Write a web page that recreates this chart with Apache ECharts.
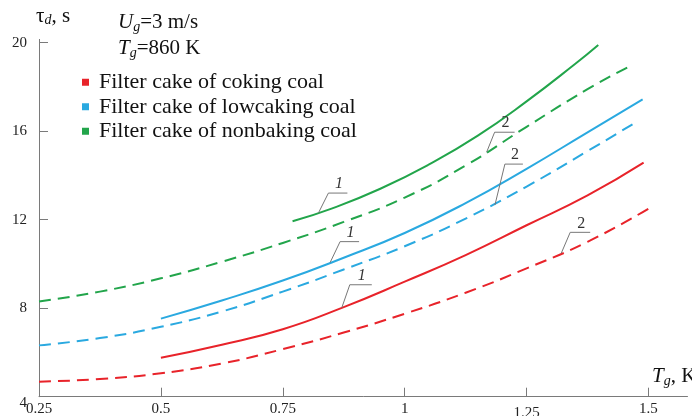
<!DOCTYPE html>
<html>
<head>
<meta charset="utf-8">
<script src="https://cdn.jsdelivr.net/npm/echarts@6/dist/echarts.min.js"></script>
<style>
  html, body { margin: 0; padding: 0; background: #fff; }
  #chart { width: 692px; height: 416px; }
</style>
</head>
<body>
<div id="chart"></div>
<script>
// Droplet time tau_d versus T_g for three filter cakes (curves 1 and 2)
const xTicks = [0.25, 0.5, 0.75, 1, 1.25, 1.5];
const yTicks = [4, 8, 12, 16, 20];

const seriesNames = [
  'Filter cake of coking coal',
  'Filter cake of lowcaking coal',
  'Filter cake of nonbaking coal'
];

// coking coal
const cokingCurve1 = [[0.5, 5.76], [0.625, 6.35], [0.75, 7.05], [0.875, 8.05], [1.0, 9.2],
  [1.125, 10.4], [1.25, 11.75], [1.375, 13.1], [1.49, 14.58]];
const cokingCurve2 = [[0.25, 4.68], [0.375, 4.8], [0.5, 5.06], [0.625, 5.5], [0.75, 6.15],
  [0.875, 6.9], [1.0, 7.75], [1.125, 8.7], [1.25, 9.8], [1.375, 11.0], [1.5, 12.5]];

// lowcaking coal
const lowCurve1 = [[0.5, 7.53], [0.625, 8.35], [0.75, 9.25], [0.875, 10.28], [1.0, 11.4],
  [1.125, 12.75], [1.25, 14.3], [1.375, 15.95], [1.488, 17.44]];
const lowCurve2 = [[0.25, 6.32], [0.375, 6.65], [0.5, 7.16], [0.625, 7.85], [0.75, 8.75],
  [0.875, 9.75], [1.0, 10.8], [1.125, 12.05], [1.25, 13.5], [1.375, 15.1], [1.47, 16.35]];

// nonbaking coal
const nonCurve1 = [[0.77, 11.93], [0.85, 12.5], [0.95, 13.4], [1.05, 14.5], [1.15, 15.8],
  [1.25, 17.35], [1.35, 19.05], [1.397, 19.9]];
const nonCurve2 = [[0.25, 8.3], [0.375, 8.75], [0.5, 9.35], [0.625, 10.1], [0.75, 10.95],
  [0.875, 11.9], [1.0, 13.0], [1.125, 14.45], [1.25, 16.2], [1.375, 17.9], [1.46, 18.92]];

// curve number callouts: anchor point on the curve and the number shown
const calloutPoints = [[0.823, 12.3], [0.847, 10.06], [0.871, 8.02],
  [1.168, 15.05], [1.185, 12.66], [1.321, 10.48]];
const calloutTags = ['1', '1', '1', '2', '2', '2'];

// leader geometry in pixels: [rise dx, rise dy, shelf length]
const leaderShape = [[10, -20, 19], [10, -21, 19], [8, -23, 22],
  [8, -20, 20], [10, -41, 18], [9, -21, 20]];

const RED = '#e8232a';
const BLUE = '#2aa9e0';
const GREEN = '#22a54b';
const AXIS = '#7a7a7a';
const SERIF = '"Liberation Serif", "Times New Roman", serif';

function curve(name, data, color, dashed) {
  return {
    type: 'line',
    name: name,
    data: data,
    smooth: true,
    showSymbol: false,
    symbol: 'none',
    lineStyle: { color: color, width: 2, type: dashed ? [12, 7] : 'solid' },
    itemStyle: { color: color },
    silent: true,
    z: 3
  };
}

function subText(main, sub, rest, italicMain) {
  return {
    text: '{i|' + main + '}{s|' + sub + '}{n|' + rest + '}',
    rich: {
      i: { fontFamily: SERIF, fontSize: 21, fontStyle: italicMain ? 'italic' : 'normal', fill: '#111' },
      s: { fontFamily: SERIF, fontSize: 14, fontStyle: 'italic', fill: '#111', padding: [10, 0, 0, 0] },
      n: { fontFamily: SERIF, fontSize: 21, fill: '#111' }
    }
  };
}

const chart = echarts.init(document.getElementById('chart'), null, { renderer: 'canvas' });

chart.setOption({
  animation: false,
  backgroundColor: '#ffffff',
  grid: {
    left: 39, top: 39.4, width: 648.5, height: 357.3,
    containLabel: false, outerBoundsMode: 'none'
  },
  legend: {
    left: 77,
    top: 66,
    orient: 'vertical',
    icon: 'rect',
    itemWidth: 7,
    itemHeight: 7,
    itemGap: 2,
    selectedMode: false,
    data: seriesNames.map((n, i) => ({ name: n, itemStyle: { color: [RED, BLUE, GREEN][i] } })),
    textStyle: { fontFamily: SERIF, fontSize: 22, color: '#111', lineHeight: 22.5, padding: [0, 0, 0, 5] }
  },
  xAxis: {
    type: 'value',
    min: 0.25,
    max: 1.58,
    interval: 0.25,
    axisLine: { show: true, onZero: false, lineStyle: { color: AXIS, width: 1 } },
    axisTick: { show: true, inside: true, length: 9, lineStyle: { color: AXIS } },
    splitLine: { show: false },
    axisLabel: {
      margin: 5,
      fontFamily: SERIF,
      fontSize: 15,
      color: '#222',
      showMaxLabel: false,
      formatter: function (v) {
        const t = xTicks.find(k => Math.abs(k - v) < 1e-6);
        if (t === undefined) return '';
        if (Math.abs(t - 1.25) < 1e-6) return '{low|1.25}';
        return String(t);
      },
      rich: { low: { fontFamily: SERIF, fontSize: 15, color: '#222', padding: [4, 0, 0, 0] } }
    }
  },
  yAxis: {
    type: 'value',
    min: 4,
    max: 20.15,
    interval: 4,
    axisLine: { show: true, onZero: false, lineStyle: { color: AXIS, width: 1 } },
    axisTick: { show: true, inside: true, length: 9, lineStyle: { color: AXIS } },
    splitLine: { show: false },
    axisLabel: {
      margin: 12,
      fontFamily: SERIF,
      fontSize: 15,
      color: '#222',
      showMaxLabel: false,
      formatter: function (v) {
        const t = yTicks.find(k => Math.abs(k - v) < 1e-6);
        if (t === undefined) return '';
        if (t === 4) return '{four|4}';
        return String(t);
      },
      rich: { four: { fontFamily: SERIF, fontSize: 15, color: '#222', padding: [12, 0, 0, 0] } }
    }
  },
  series: [
    curve(seriesNames[0], cokingCurve1, RED, false),
    curve(seriesNames[0], cokingCurve2, RED, true),
    curve(seriesNames[1], lowCurve1, BLUE, false),
    curve(seriesNames[1], lowCurve2, BLUE, true),
    curve(seriesNames[2], nonCurve1, GREEN, false),
    curve(seriesNames[2], nonCurve2, GREEN, true),
    {
      type: 'custom',
      name: 'callouts',
      silent: true,
      z: 4,
      data: calloutPoints,
      renderItem: function (params, api) {
        const p = api.coord([api.value(0), api.value(1)]);
        const s = leaderShape[params.dataIndex];
        const tag = calloutTags[params.dataIndex];
        const kx = p[0] + s[0];
        const ky = p[1] + s[1];
        return {
          type: 'group',
          children: [
            {
              type: 'polyline',
              shape: { points: [p, [kx, ky], [kx + s[2], ky]] },
              style: { stroke: '#777', lineWidth: 1, fill: null }
            },
            {
              type: 'text',
              x: kx + s[2] / 2 + 1,
              y: ky - 1,
              style: {
                text: tag,
                fontFamily: SERIF,
                fontStyle: tag === '1' ? 'italic' : 'normal',
                fontSize: 16,
                fill: '#333',
                align: 'center',
                verticalAlign: 'bottom'
              }
            }
          ]
        };
      }
    }
  ],
  graphic: [
    {
      type: 'text',
      left: 36,
      top: 6,
      style: {
        text: '{t|τ}{s|d}{n|, s}',
        rich: {
          t: { fontFamily: SERIF, fontSize: 21, fill: '#111' },
          s: { fontFamily: SERIF, fontSize: 14, fontStyle: 'italic', fill: '#111', padding: [8, 0, 0, 0] },
          n: { fontFamily: SERIF, fontSize: 21, fill: '#111' }
        }
      }
    },
    { type: 'text', left: 118, top: 12, style: subText('U', 'g', '=3 m/s', true) },
    { type: 'text', left: 118, top: 38, style: subText('T', 'g', '=860 K', true) },
    { type: 'text', left: 652, top: 366, style: subText('T', 'g', ', K', true) }
  ]
});
</script>
</body>
</html>
